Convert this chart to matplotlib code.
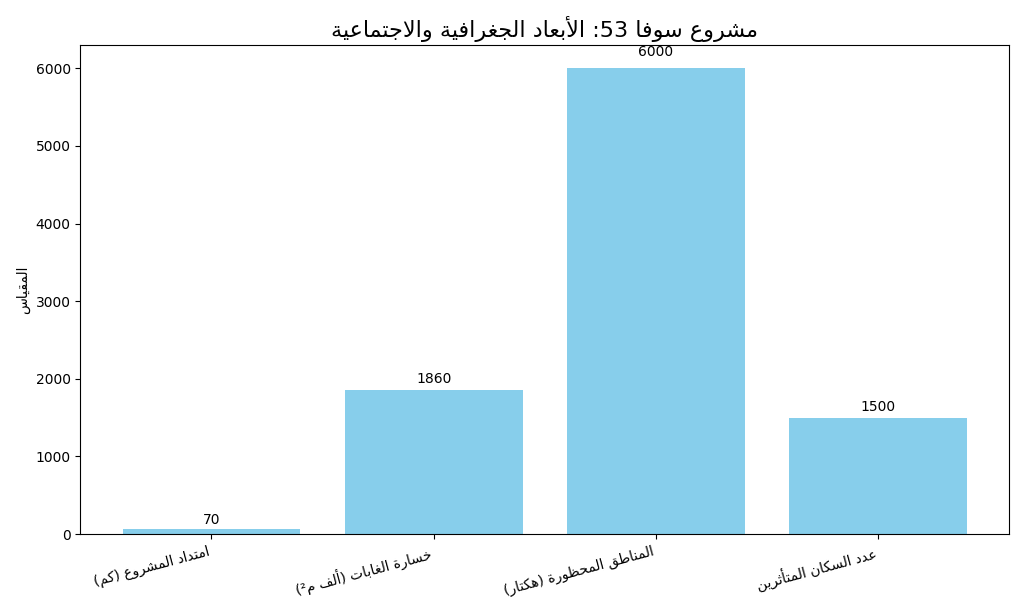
import matplotlib
matplotlib.use("Agg")
import matplotlib.pyplot as plt

# presentation forms: isolated, final, initial, medial
FORMS = {
    '\u0627': (0xFE8D, 0xFE8E, None, None),
    '\u0623': (0xFE83, 0xFE84, None, None),
    '\u0626': (0xFE89, 0xFE8A, 0xFE8B, 0xFE8C),
    '\u0628': (0xFE8F, 0xFE90, 0xFE91, 0xFE92),
    '\u0629': (0xFE93, 0xFE94, None, None),
    '\u062A': (0xFE95, 0xFE96, 0xFE97, 0xFE98),
    '\u062B': (0xFE99, 0xFE9A, 0xFE9B, 0xFE9C),
    '\u062C': (0xFE9D, 0xFE9E, 0xFE9F, 0xFEA0),
    '\u062D': (0xFEA1, 0xFEA2, 0xFEA3, 0xFEA4),
    '\u062E': (0xFEA5, 0xFEA6, 0xFEA7, 0xFEA8),
    '\u062F': (0xFEA9, 0xFEAA, None, None),
    '\u0630': (0xFEAB, 0xFEAC, None, None),
    '\u0631': (0xFEAD, 0xFEAE, None, None),
    '\u0632': (0xFEAF, 0xFEB0, None, None),
    '\u0633': (0xFEB1, 0xFEB2, 0xFEB3, 0xFEB4),
    '\u0634': (0xFEB5, 0xFEB6, 0xFEB7, 0xFEB8),
    '\u0635': (0xFEB9, 0xFEBA, 0xFEBB, 0xFEBC),
    '\u0636': (0xFEBD, 0xFEBE, 0xFEBF, 0xFEC0),
    '\u0637': (0xFEC1, 0xFEC2, 0xFEC3, 0xFEC4),
    '\u0638': (0xFEC5, 0xFEC6, 0xFEC7, 0xFEC8),
    '\u0639': (0xFEC9, 0xFECA, 0xFECB, 0xFECC),
    '\u063A': (0xFECD, 0xFECE, 0xFECF, 0xFED0),
    '\u0641': (0xFED1, 0xFED2, 0xFED3, 0xFED4),
    '\u0642': (0xFED5, 0xFED6, 0xFED7, 0xFED8),
    '\u0643': (0xFED9, 0xFEDA, 0xFEDB, 0xFEDC),
    '\u0644': (0xFEDD, 0xFEDE, 0xFEDF, 0xFEE0),
    '\u0645': (0xFEE1, 0xFEE2, 0xFEE3, 0xFEE4),
    '\u0646': (0xFEE5, 0xFEE6, 0xFEE7, 0xFEE8),
    '\u0647': (0xFEE9, 0xFEEA, 0xFEEB, 0xFEEC),
    '\u0648': (0xFEED, 0xFEEE, None, None),
    '\u0649': (0xFEEF, 0xFEF0, None, None),
    '\u064A': (0xFEF1, 0xFEF2, 0xFEF3, 0xFEF4),
    # lam-alef ligatures
    'LA': (0xFEFB, 0xFEFC, None, None),
    'LA_HAMZA': (0xFEF7, 0xFEF8, None, None),
}
LAM_ALEF = {'\u0627': 'LA', '\u0623': 'LA_HAMZA'}
MIRROR = {'(': ')', ')': '('}


def reshape(text):
    # lam + alef -> one unit
    units = []
    i = 0
    while i < len(text):
        c = text[i]
        if c == '\u0644' and i + 1 < len(text) and text[i + 1] in LAM_ALEF:
            units.append(LAM_ALEF[text[i + 1]])
            i += 2
        else:
            units.append(c)
            i += 1
    out = []
    for k, u in enumerate(units):
        if u not in FORMS:
            out.append(u)
            continue
        prev = units[k - 1] if k > 0 else None
        nxt = units[k + 1] if k + 1 < len(units) else None
        joins_prev = prev in FORMS and FORMS[prev][2] is not None
        joins_next = FORMS[u][2] is not None and nxt in FORMS
        iso, fin, ini, med = FORMS[u]
        if joins_prev and joins_next:
            cp = med
        elif joins_prev:
            cp = fin
        elif joins_next:
            cp = ini
        else:
            cp = iso
        out.append(chr(cp))
    return ''.join(out)


def ar(text):
    # shape, then visual order (numbers stay left-to-right)
    shaped = reshape(text)
    tokens = []
    for c in shaped:
        num = c.isdigit() or c == '\u00b2'
        if num and tokens and tokens[-1][0] == 'n':
            tokens[-1] = ('n', tokens[-1][1] + c)
        elif num:
            tokens.append(('n', c))
        else:
            tokens.append(('c', MIRROR.get(c, c)))
    return ''.join(t[1] for t in reversed(tokens))


categories = ['امتداد المشروع (كم)', 'خسارة الغابات (ألف م²)',
              'المناطق المحظورة (هكتار)', 'عدد السكان المتأثرين']
values = [70, 1860, 6000, 1500]
title = 'مشروع سوفا 53: الأبعاد الجغرافية والاجتماعية'
ylabel = 'المقياس'

fig, ax = plt.subplots(figsize=(10.24, 6.15), dpi=100)
labels = [ar(c) for c in categories]
bars = ax.bar(labels, values, color='skyblue')
for i, v in enumerate(values):
    ax.text(i, v * 1.015 + 25, str(v), ha='center', va='bottom', fontsize=10)
ax.set_title(ar(title), fontsize=16)
ax.set_ylabel(ar(ylabel))
plt.setp(ax.get_xticklabels(), rotation=15, ha='right')
fig.subplots_adjust(left=0.0785, right=0.9855, top=0.9268, bottom=0.1317)
plt.savefig('out.png')
